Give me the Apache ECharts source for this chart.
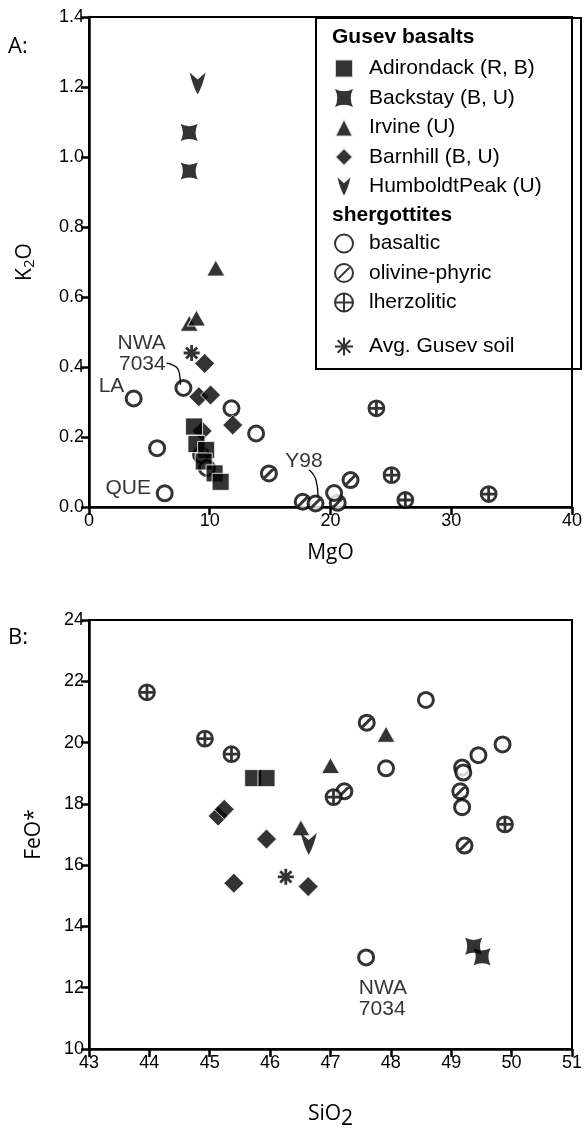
<!DOCTYPE html>
<html>
<head>
<meta charset="utf-8">
<script src="https://cdn.jsdelivr.net/npm/echarts@6/dist/echarts.min.js"></script>
<style>
  html,body{margin:0;padding:0;background:#fff;}
  #chart{width:585px;height:1131px;}
</style>
</head>
<body>
<div id="chart"></div>
<script>
// ---- panel A: MgO vs K2O ----
const aAdirondack = [[8.7,0.23],[8.9,0.18],[9.7,0.163],[9.5,0.13],[10.4,0.096],[10.9,0.072]];
const aBackstay   = [[8.3,1.07],[8.3,0.96]];
const aIrvine     = [[8.3,0.525],[8.9,0.54],[10.5,0.683]];
const aBarnhill   = [[9.58,0.41],[9.1,0.315],[10.07,0.32],[11.9,0.234],[9.37,0.217]];
const aHumboldt   = [[9.0,1.21]];
const aBasaltic   = [[3.7,0.31],[5.64,0.168],[6.27,0.039],[7.82,0.34],[11.8,0.282],[13.84,0.21],[9.28,0.149],[9.77,0.111],[20.3,0.04]];
const aOlivine    = [[14.9,0.096],[17.7,0.015],[18.76,0.01],[21.66,0.077],[20.6,0.012]];
const aLherz      = [[23.8,0.282],[25.06,0.091],[26.2,0.02],[33.1,0.037]];
const aSoil       = [[8.5,0.44]];
const aLabels     = [[6.35,0.469,'NWA','right'],[6.35,0.409,'7034','right'],[2.93,0.346,'LA','right'],[5.13,0.054,'QUE','right'],[17.8,0.13,'Y98','center']];
const aLeaderNWA  = [[6.43,0.411],[7.41,0.391],[7.57,0.349]];
const aLeaderY98  = [[18.24,0.106],[18.8,0.077],[18.97,0.03]];

// ---- panel B: SiO2 vs FeO* ----
const bAdirondack = [[45.72,18.84],[45.94,18.84]];
const bBackstay   = [[49.37,13.35],[49.51,13.01]];
const bIrvine     = [[47.0,19.25],[47.92,20.27],[46.51,17.22]];
const bBarnhill   = [[45.14,17.6],[45.24,17.82],[45.94,16.85],[45.4,15.41],[46.63,15.3]];
const bHumboldt   = [[46.64,16.69]];
const bBasaltic   = [[48.58,21.39],[47.92,19.16],[49.18,19.19],[49.2,19.02],[49.45,19.59],[49.85,19.94],[49.18,17.89],[47.59,12.99]];
const bOlivine    = [[47.6,20.65],[47.23,18.41],[49.15,18.41],[49.22,16.64]];
const bLherz      = [[43.96,21.64],[44.92,20.13],[45.36,19.62],[47.05,18.22],[49.89,17.33]];
const bSoil       = [[46.26,15.62]];
const bLabels     = [[47.47,12.0,'NWA','left'],[47.47,11.3,'7034','left']];

const names = ['Adirondack (R, B)','Backstay (B, U)','Irvine (U)','Barnhill (B, U)','HumboldtPeak (U)','basaltic','olivine-phyric','lherzolitic','Avg. Gusev soil'];

const CIRC = 'M10,0 A10,10 0 1 1 -10,0 A10,10 0 1 1 10,0 Z';
const SYM = {
  olivine: 'path://' + CIRC + ' M-6,6 L6,-6',
  lherz: 'path://' + CIRC + ' M-10,0 L10,0 M0,-10 L0,10',
  backstay: 'path://M-10,-10 Q0,-5 10,-10 Q5,0 10,10 Q0,5 -10,10 Q-5,0 -10,-10 Z',
  humboldt: 'path://M-8,-11 L0,-4 L8,-11 Q5,2 0,11 Q-5,2 -8,-11 Z',
  soil: 'path://M0,-10 L0,10 M-10,0 L10,0 M-7,-7 L7,7 M-7,7 L7,-7'
};

const FONT = 'Liberation Sans, Arial, sans-serif';
const TICK_FONT = {color:'#000',fontSize:18,fontFamily:FONT};
const NAME_FONT = {color:'#000',fontSize:21,fontFamily:'Open Sans, sans-serif'};
const filled = {color:'#000',borderColor:'#fff',borderWidth:1};
const solid = {color:'#000'};
const open = {color:'#fff',borderColor:'#000',borderWidth:3};

function scatter(name, data, idx, symbol, size, style, z){
  return {name, type:'scatter', xAxisIndex:idx, yAxisIndex:idx, data, symbol, symbolSize:size,
    itemStyle:style, z:z||2, emphasis:{disabled:true}, silent:true};
}
function texts(data, idx){
  return {type:'scatter', xAxisIndex:idx, yAxisIndex:idx, symbolSize:0, silent:true, z:5,
    data: data.map(d => ({value:[d[0],d[1]], label:{show:true, formatter:d[2], position:[0,0], align:d[3], verticalAlign:'middle',
      color:'#000', fontSize:21, fontFamily:FONT}}))};
}
function leader(data, idx){
  return {type:'line', xAxisIndex:idx, yAxisIndex:idx, data, smooth:true, symbol:'none', silent:true,
    lineStyle:{color:'#000',width:1.3}, z:4};
}
function panel(idx, d){
  return [
    scatter(names[6], d.oli, idx, SYM.olivine, 15, open, 2),
    scatter(names[5], d.bas, idx, 'circle', 15, open, 2),
    scatter(names[7], d.lhz, idx, SYM.lherz, 15, {color:'#fff',borderColor:'#000',borderWidth:2.8}, 2),
    scatter(names[3], d.bar, idx, 'diamond', 20, filled, 3),
    scatter(names[2], d.irv, idx, 'triangle', [18,16], filled, 3),
    scatter(names[0], d.adi, idx, 'rect', 17, filled, 3),
    scatter(names[1], d.bck, idx, SYM.backstay, 17, solid, 3),
    scatter(names[4], d.hum, idx, SYM.humboldt, [16,22], solid, 3),
    scatter(names[8], d.soil, idx, SYM.soil, 16, {color:'#000',borderColor:'#000',borderWidth:2.8}, 4)
  ];
}

const series = [
  ...panel(0,{adi:aAdirondack,bck:aBackstay,irv:aIrvine,bar:aBarnhill,hum:aHumboldt,bas:aBasaltic,oli:aOlivine,lhz:aLherz,soil:aSoil}),
  ...panel(1,{adi:bAdirondack,bck:bBackstay,irv:bIrvine,bar:bBarnhill,hum:bHumboldt,bas:bBasaltic,oli:bOlivine,lhz:bLherz,soil:bSoil}),
  texts(aLabels,0), texts(bLabels,1), leader(aLeaderNWA,0), leader(aLeaderY98,0)
];

function axis(extra){
  return Object.assign({
    axisLine:{onZero:false,lineStyle:{color:'#000',width:2.5}},
    axisTick:{inside:false,length:8,lineStyle:{color:'#000',width:2.5}},
    axisLabel:Object.assign({margin:5},TICK_FONT),
    splitLine:{show:false},
    nameTextStyle:NAME_FONT
  }, extra);
}

const legendCommon = {orient:'vertical', left:334, itemWidth:18, itemHeight:18, itemGap:8.5, selectedMode:false,
  textStyle:{color:'#000',fontSize:21,fontFamily:FONT,padding:[0,0,0,11]}, padding:0};

const chart = echarts.init(document.getElementById('chart'));
chart.setOption({
  animation:false,
  backgroundColor:'#fff',
  grid:[
    {left:89,top:17,width:491,height:490,show:true,borderColor:'#000',borderWidth:2},
    {left:89,top:620,width:492,height:434,show:true,borderColor:'#000',borderWidth:2}
  ],
  xAxis:[
    axis({gridIndex:0,type:'value',min:0,max:40,interval:10,name:'MgO',nameLocation:'middle',nameGap:36}),
    axis({gridIndex:1,type:'value',min:43,max:51,interval:1,name:'{a|SiO}{s|2}',nameLocation:'middle',nameGap:50,
      nameTextStyle:Object.assign({},NAME_FONT,{rich:{a:NAME_FONT,s:Object.assign({},NAME_FONT,{padding:[10,0,0,0]})}})})
  ],
  yAxis:[
    axis({gridIndex:0,type:'value',min:0,max:1.4,interval:0.2,name:'{a|K}{s|2}{a|O}',nameLocation:'middle',nameGap:52,
      axisLabel:Object.assign({margin:5,formatter:v=>v.toFixed(1)},TICK_FONT),
      nameTextStyle:Object.assign({},NAME_FONT,{rich:{a:NAME_FONT,s:Object.assign({},NAME_FONT,{fontSize:15,padding:[8,0,0,0]})}})}),
    axis({gridIndex:1,type:'value',min:10,max:24,interval:2,name:'FeO*',nameLocation:'middle',nameGap:44})
  ],
  legend:[
    Object.assign({top:58,data:names.slice(0,5)},legendCommon),
    Object.assign({top:233,data:names.slice(5,8)},legendCommon),
    Object.assign({top:336,data:[names[8]]},legendCommon)
  ],
  graphic:[
    {type:'rect',left:315,top:17,shape:{width:265,height:351},style:{fill:'#fff',stroke:'#000',lineWidth:2},z:-1,silent:true},
    {type:'text',left:332,top:27,style:{text:'Gusev basalts',fontSize:21,fontWeight:'bold',fontFamily:FONT,fill:'#000'}},
    {type:'text',left:332,top:205,style:{text:'shergottites',fontSize:21,fontWeight:'bold',fontFamily:FONT,fill:'#000'}},
    {type:'text',left:8,top:36,style:{text:'A:',fontSize:22,fontFamily:'Open Sans, sans-serif',fill:'#000'}},
    {type:'text',left:8,top:627,style:{text:'B:',fontSize:22,fontFamily:'Open Sans, sans-serif',fill:'#000'}}
  ],
  series
});
</script>
</body>
</html>
